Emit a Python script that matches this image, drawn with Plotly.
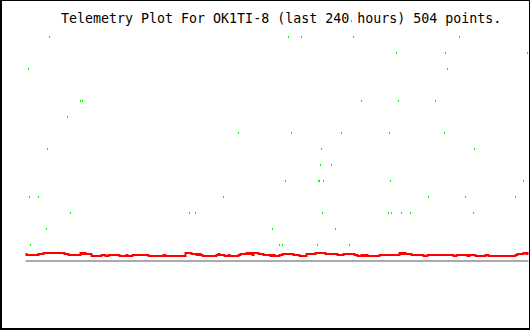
import plotly.graph_objects as go

W, H = 530, 330
TITLE = "Telemetry Plot For OK1TI-8 (last 240 hours) 504 points."

# Red channel: (value, number of samples)
red_runs = [
    (7, 1), (6, 12), (7, 5), (8, 21), (7, 4), (6, 12), (8, 2), (7, 2), (8, 1),
    (7, 6), (5, 10), (6, 4), (5, 3), (6, 11), (5, 7), (6, 1), (5, 5), (6, 16),
    (5, 15), (6, 2), (5, 20), (8, 6), (7, 5), (6, 2), (7, 2), (6, 2), (5, 14),
    (6, 2), (7, 1), (6, 5), (5, 4), (6, 1), (5, 9), (6, 2), (7, 6), (8, 2),
    (7, 2), (8, 2), (6, 1), (8, 5), (7, 5), (6, 7), (5, 2), (6, 2), (5, 5),
    (6, 3), (7, 11), (6, 6), (5, 7), (7, 9), (8, 10), (7, 12), (6, 6), (7, 11),
    (6, 3), (5, 4), (6, 2), (5, 2), (6, 2), (5, 12), (6, 20), (8, 2), (7, 2),
    (8, 2), (7, 6), (6, 12), (5, 4), (6, 26), (5, 3), (6, 11), (5, 2), (6, 6),
    (5, 10), (6, 3), (5, 27), (6, 2), (7, 6), (8, 3), (7, 1), (8, 2),
]
red_values = []
for v, n in red_runs:
    red_values.extend([v] * n)
n_points = len(red_values)
sample_index = list(range(n_points))

# Gray channel (constant zero)
gray_values = [0] * n_points

# Green channel: sparse samples (sample index, value)
green_index = [
    24, 3, 55, 57, 42, 263, 276, 328, 213, 266, 316, 434, 371, 420, 502, 422,
    336, 373, 410, 364, 419, 22, 4, 13, 45, 21, 5, 296, 295, 306, 260, 293,
    294, 298, 198, 164, 170, 297, 247, 310, 254, 257, 292, 324, 449, 365, 498,
    403, 440, 490, 363, 366, 376, 385, 448, 326, 434,
]
green_values = [
    224, 192, 160, 160, 144, 224, 224, 224, 128, 128, 128, 224, 208, 208, 208,
    192, 160, 160, 160, 128, 128, 112, 64, 64, 48, 32, 16, 112, 96, 96, 80, 80,
    80, 80, 64, 48, 48, 48, 32, 32, 16, 16, 16, 16, 112, 80, 80, 64, 64, 64,
    48, 48, 48, 48, 48, 240, 240,
]

fig = go.Figure()
fig.add_trace(go.Scatter(
    x=sample_index, y=gray_values, mode="lines",
    line=dict(color="#aaaaaa", width=2), hoverinfo="skip"))
fig.add_trace(go.Scatter(
    x=sample_index, y=red_values, mode="lines",
    line=dict(color="#ff0000", width=2, shape="hv"), hoverinfo="skip"))
fig.add_trace(go.Scatter(
    x=green_index, y=green_values, mode="markers",
    marker=dict(symbol="line-ns", size=1.6, color="#00ff00",
                line=dict(color="#00ff00", width=1)),
    hoverinfo="skip"))

# frame
frame = [
    (1 / W, 0, 1 / W, 1, 2),
    (529.5 / W, 0, 529.5 / W, 1, 1),
    (0, 1 - 0.5 / H, 1, 1 - 0.5 / H, 1),
    (0, 1 / H, 1, 1 / H, 2),
]
shapes = [dict(type="line", xref="paper", yref="paper", x0=a, y0=b, x1=c, y1=d,
               line=dict(color="black", width=w)) for a, b, c, d, w in frame]

fig.update_layout(
    width=W, height=H, margin=dict(l=0, r=0, t=0, b=0),
    paper_bgcolor="white", plot_bgcolor="white", showlegend=False,
    xaxis=dict(range=[-25.5, 504.5], visible=False, fixedrange=True),
    yaxis=dict(range=[-69, 261], visible=False, fixedrange=True),
    shapes=shapes,
    annotations=[dict(text=TITLE, xref="paper", yref="paper",
                      x=58.5 / W, y=1 - 18 / H, xanchor="left", yanchor="middle",
                      showarrow=False,
                      font=dict(family="DejaVu Sans Mono", size=13.3, color="black"))],
)
fig.write_html("out.html")
